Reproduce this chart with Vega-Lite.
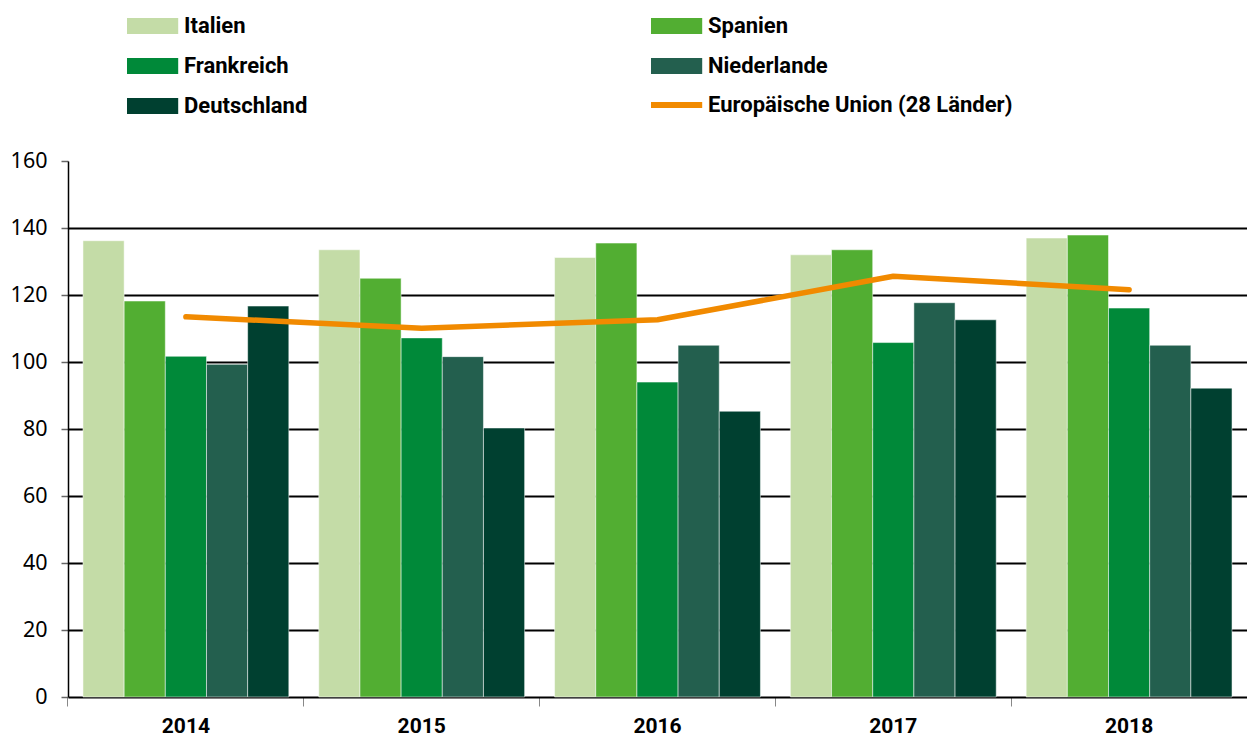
{
"$schema": "https://vega.github.io/schema/vega-lite/v6.json",
"autosize": {"type": "none"},
"padding": {"left": 68, "top": 161, "right": 0, "bottom": 41},
"width": 1179,
"height": 536,
"datasets": {
"bars": [
{"year": "2014", "land": "Italien", "value": 136.2},
{"year": "2014", "land": "Spanien", "value": 118.2},
{"year": "2014", "land": "Frankreich", "value": 101.7},
{"year": "2014", "land": "Niederlande", "value": 99.3},
{"year": "2014", "land": "Deutschland", "value": 116.7},
{"year": "2015", "land": "Italien", "value": 133.5},
{"year": "2015", "land": "Spanien", "value": 125.0},
{"year": "2015", "land": "Frankreich", "value": 107.2},
{"year": "2015", "land": "Niederlande", "value": 101.6},
{"year": "2015", "land": "Deutschland", "value": 80.3},
{"year": "2016", "land": "Italien", "value": 131.2},
{"year": "2016", "land": "Spanien", "value": 135.5},
{"year": "2016", "land": "Frankreich", "value": 94.0},
{"year": "2016", "land": "Niederlande", "value": 105.0},
{"year": "2016", "land": "Deutschland", "value": 85.3},
{"year": "2017", "land": "Italien", "value": 132.0},
{"year": "2017", "land": "Spanien", "value": 133.5},
{"year": "2017", "land": "Frankreich", "value": 105.8},
{"year": "2017", "land": "Niederlande", "value": 117.7},
{"year": "2017", "land": "Deutschland", "value": 112.6},
{"year": "2018", "land": "Italien", "value": 137.0},
{"year": "2018", "land": "Spanien", "value": 137.9},
{"year": "2018", "land": "Frankreich", "value": 116.1},
{"year": "2018", "land": "Niederlande", "value": 105.0},
{"year": "2018", "land": "Deutschland", "value": 92.2}
],
"eu": [
{"year": "2014", "value": 113.5},
{"year": "2015", "value": 110.1},
{"year": "2016", "value": 112.6},
{"year": "2017", "value": 125.6},
{"year": "2018", "value": 121.6}
]
},
"config": {"view": {"stroke": null}, "font": "Roboto"},
"layer": [
{
"data": {"name": "bars"},
"mark": {"type": "bar", "stroke": "#ffffff", "strokeWidth": 1, "strokeOpacity": 0.5},
"encoding": {
"x": {"field": "year", "type": "nominal", "scale": {"paddingInner": 0.127, "paddingOuter": 0.0635},
"axis": {"title": null, "bandPosition": -0.073, "domainColor": "#000", "domainWidth": 2, "tickColor": "#888", "tickSize": 9, "tickWidth": 1, "labelPadding": 9, "labelFontSize": 21, "labelFontWeight": "bold", "labelFont": "Roboto", "labelColor": "#000", "labelAngle": 0, "grid": false}},
"xOffset": {"field": "land", "type": "nominal", "sort": ["Italien", "Spanien", "Frankreich", "Niederlande", "Deutschland"], "scale": {"paddingInner": 0, "paddingOuter": 0}},
"y": {"field": "value", "type": "quantitative", "scale": {"domain": [0, 160], "nice": false},
"axis": {"title": null, "values": [0, 20, 40, 60, 80, 100, 120, 140, 160], "grid": true, "gridColor": "#000", "gridWidth": 2.2, "gridOpacity": {"condition": {"test": "datum.value === 160 || datum.value === 0", "value": 0}, "value": 1}, "domainColor": "#000", "domainWidth": 1.5, "tickColor": "#666", "tickSize": 7, "tickWidth": 1.5, "labelPadding": 14, "labelFontSize": 21.5, "labelFont": "Noto Sans", "labelColor": "#000"}},
"color": {"field": "land", "type": "nominal",
"scale": {"domain": ["Italien", "Spanien", "Frankreich", "Niederlande", "Deutschland"], "range": ["#c4dca7", "#52ae32", "#008939", "#235f4e", "#004030"]},
"legend": {"orient": "none", "legendX": 56, "legendY": -146, "columns": 2, "direction": "horizontal", "title": null, "symbolType": "M-1,-1H5.4V1H-1Z", "symbolSize": 256, "labelFontSize": 22, "labelFontWeight": "bold", "labelFont": "Roboto", "labelColor": "#000", "labelLimit": 500, "labelOffset": 38, "columnPadding": 340, "rowPadding": 18, "symbolStrokeWidth": 0, "symbolOpacity": 1}}
}
},
{
"data": {"name": "eu"},
"mark": {"type": "line", "strokeWidth": 5.5, "strokeCap": "round", "strokeJoin": "round"},
"encoding": {
"x": {"field": "year", "type": "nominal"},
"y": {"field": "value", "type": "quantitative"},
"stroke": {"datum": "Europäische Union (28 Länder)", "type": "nominal",
"scale": {"domain": ["Europäische Union (28 Länder)"], "range": ["#f18a00"]},
"legend": {"orient": "none", "legendX": 580, "legendY": -67, "title": null, "symbolType": "M-1,0H5.4", "symbolSize": 256, "symbolStrokeWidth": 6, "symbolOpacity": 1, "labelFontSize": 22, "labelFontWeight": "bold", "labelFont": "Roboto", "labelColor": "#000", "labelLimit": 500, "labelOffset": 38}}
}
}
]
}
